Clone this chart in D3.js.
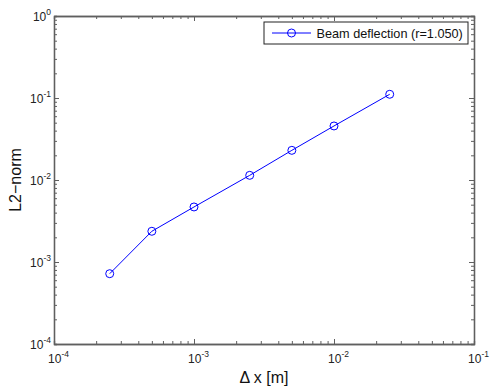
<!DOCTYPE html>
<html>
<head>
<meta charset="utf-8">
<script src="https://cdn.jsdelivr.net/npm/d3@7"></script>
<style>
body { margin: 0; background: #fff; }
text { font-family: "Liberation Sans", Arial, sans-serif; }
</style>
</head>
<body>
<svg width="491" height="391"></svg>
<script>
// data
var dx = [2.5e-4, 5e-4, 1e-3, 2.5e-3, 5e-3, 1e-2, 2.5e-2];
var l2norm = [7.2e-4, 2.37e-3, 4.69e-3, 1.14e-2, 2.30e-2, 4.56e-2, 0.111];
var xDecades = [1e-4, 1e-3, 1e-2, 1e-1];
var yDecades = [1e-4, 1e-3, 1e-2, 1e-1, 1];
var xExp = ["-4", "-3", "-2", "-1"];
var yExp = ["-4", "-3", "-2", "-1", "0"];
var seriesName = "Beam deflection (r=1.050)";

var svg = d3.select("svg"),
	width = 491,
	height = 391,
	margin = {top: 16, right: 17, bottom: 47, left: 54},
	w = width - margin.left - margin.right,
	h = height - margin.top - margin.bottom;

var x = d3.scaleLog().domain([1e-4, 1e-1]).range([0, w]);
var y = d3.scaleLog().domain([1e-4, 1]).range([h, 0]);

function minors(decades, dom) {
	var out = [];
	decades.forEach(function(d) {
		for (var k = 2; k <= 9; k++) {
			var v = d * k;
			if (v > dom[0] && v < dom[1]) out.push(v);
		}
	});
	return out;
}
var xMinor = minors(xDecades, x.domain()),
	yMinor = minors(yDecades, y.domain());

var g = svg.append("g").attr("transform", "translate(" + margin.left + "," + margin.top + ")");
var axisColor = "#5f5f5f";

function styleAxis(sel) {
	sel.selectAll("path.domain").attr("stroke", axisColor).attr("stroke-width", 1.3);
	sel.selectAll(".tick line").attr("stroke", axisColor).attr("stroke-width", 1);
}

// minor ticks (all four sides, inside)
g.append("g").attr("transform", "translate(0," + h + ")")
	.call(d3.axisBottom(x).tickValues(xMinor).tickSize(-3).tickFormat(""))
	.call(styleAxis);
g.append("g")
	.call(d3.axisTop(x).tickValues(xMinor).tickSize(-3).tickFormat(""))
	.call(styleAxis);
g.append("g")
	.call(d3.axisLeft(y).tickValues(yMinor).tickSize(-3).tickFormat(""))
	.call(styleAxis);
g.append("g").attr("transform", "translate(" + w + ",0)")
	.call(d3.axisRight(y).tickValues(yMinor).tickSize(-3).tickFormat(""))
	.call(styleAxis);

// major ticks
var xAxis = g.append("g").attr("transform", "translate(0," + h + ")")
	.call(d3.axisBottom(x).tickValues(xDecades).tickSize(-5).tickSizeOuter(0).tickPadding(6))
	.call(styleAxis);
g.append("g")
	.call(d3.axisTop(x).tickValues(xDecades).tickSize(-5).tickSizeOuter(0).tickFormat(""))
	.call(styleAxis);
var yAxis = g.append("g")
	.call(d3.axisLeft(y).tickValues(yDecades).tickSize(-5).tickSizeOuter(0).tickPadding(3))
	.call(styleAxis);
g.append("g").attr("transform", "translate(" + w + ",0)")
	.call(d3.axisRight(y).tickValues(yDecades).tickSize(-5).tickSizeOuter(0).tickFormat(""))
	.call(styleAxis);

// 10^n labels
xAxis.selectAll(".tick text").each(function(d, i) {
	var t = d3.select(this).text("").attr("fill", "#222").attr("font-size", 12)
		.attr("y", 19).attr("dy", null).attr("dx", 4);
	t.append("tspan").text("10");
	t.append("tspan").attr("dy", -6).attr("font-size", 8.5).text(xExp[i]);
});
yAxis.selectAll(".tick text").each(function(d, i) {
	var t = d3.select(this).text("").attr("fill", "#222").attr("font-size", 12)
		.attr("dy", 4);
	t.append("tspan").text("10");
	t.append("tspan").attr("dy", -6).attr("font-size", 8.5).text(yExp[i]);
});

// series
var pts = dx.map(function(d, i) { return [d, l2norm[i]]; });
g.append("path")
	.datum(pts)
	.attr("fill", "none")
	.attr("stroke", "#0000ff")
	.attr("stroke-width", 1)
	.attr("d", d3.line().x(function(d) { return x(d[0]); }).y(function(d) { return y(d[1]); }));
g.selectAll("circle.pt").data(pts).enter().append("circle")
	.attr("class", "pt")
	.attr("cx", function(d) { return x(d[0]); })
	.attr("cy", function(d) { return y(d[1]); })
	.attr("r", 4)
	.attr("fill", "none")
	.attr("stroke", "#0000ff")
	.attr("stroke-width", 1);

// legend
var lg = svg.append("g").attr("transform", "translate(264,22)");
lg.append("rect").attr("width", 204).attr("height", 22)
	.attr("fill", "#fff").attr("stroke", "#222").attr("stroke-width", 1);
lg.append("line").attr("x1", 8).attr("x2", 47).attr("y1", 11).attr("y2", 11)
	.attr("stroke", "#0000ff").attr("stroke-width", 1);
lg.append("circle").attr("cx", 27.5).attr("cy", 11).attr("r", 4)
	.attr("fill", "none").attr("stroke", "#0000ff").attr("stroke-width", 1);
lg.append("text").attr("x", 52.5).attr("y", 16).attr("font-size", 12.7)
	.attr("fill", "#111").text(seriesName);

// axis titles
svg.append("text")
	.attr("x", margin.left + w / 2).attr("y", 383)
	.attr("text-anchor", "middle").attr("font-size", 16).attr("fill", "#111")
	.text("\u0394 x [m]");
svg.append("text")
	.attr("transform", "translate(21," + (margin.top + h / 2) + ") rotate(-90)")
	.attr("text-anchor", "middle").attr("font-size", 16).attr("fill", "#111")
	.text("L2\u2212norm");
</script>
</body>
</html>
